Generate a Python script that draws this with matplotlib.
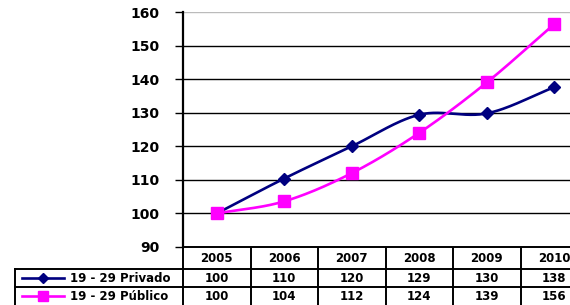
import numpy as np
import matplotlib
matplotlib.use("Agg")
import matplotlib.pyplot as plt

# ==============================
# DATOS
# ==============================

years = ["2005", "2006", "2007", "2008", "2009", "2010"]
privado = [100, 110.4, 120, 129.4, 129.8, 137.6]
publico = [100, 103.6, 112, 124, 139, 156.4]
label_privado = "19 - 29 Privado"
label_publico = "19 - 29 Público"
yticks = [90, 100, 110, 120, 130, 140, 150, 160]

NAVY = "#000080"
PINK = "#FF00FF"

plt.rcParams["font.family"] = ["DejaVu Sans"]
plt.rcParams["font.weight"] = "bold"


def smooth(xs, ys, n=30):
    # curva tipo Catmull-Rom, como las lineas suavizadas de Excel
    xs = np.asarray(xs, float)
    ys = np.asarray(ys, float)
    px = np.concatenate([[2 * xs[0] - xs[1]], xs, [2 * xs[-1] - xs[-2]]])
    py = np.concatenate([[2 * ys[0] - ys[1]], ys, [2 * ys[-1] - ys[-2]]])
    ox, oy = [], []
    t = np.linspace(0, 1, n)
    for i in range(1, len(px) - 2):
        for p, o in ((px, ox), (py, oy)):
            p0, p1, p2, p3 = p[i - 1], p[i], p[i + 1], p[i + 2]
            o.extend(0.5 * ((2 * p1) + (-p0 + p2) * t
                            + (2 * p0 - 5 * p1 + 4 * p2 - p3) * t ** 2
                            + (-p0 + 3 * p1 - 3 * p2 + p3) * t ** 3))
    return ox, oy


# ==============================
# FIGURA
# ==============================

W, H = 570, 305
left, top, bottom = 183, 12, 247
colw = 67.5

fig = plt.figure(figsize=(W / 100, H / 100), dpi=100)
ax = fig.add_axes([left / W, (H - bottom) / H, colw * len(years) / W, (bottom - top) / H])

x = np.arange(len(years))
ax.set_xlim(-0.5, len(years) - 0.5)
ax.set_ylim(90, 160)
ax.set_yticks(yticks)
ax.set_yticklabels([str(v) for v in yticks], fontsize=10, fontweight="bold")
ax.set_xticks([])
ax.tick_params(axis="y", length=6, width=1, pad=11)

for v in yticks[1:]:
    ax.axhline(v, color="#bbbbbb" if v == 160 else "black", lw=1, zorder=1)
for s in ["top", "right"]:
    ax.spines[s].set_visible(False)
ax.spines["left"].set_linewidth(1.6)
ax.spines["bottom"].set_linewidth(1.4)

sx, sy = smooth(x, privado)
ax.plot(sx, sy, color=NAVY, lw=1.9, zorder=3, clip_on=False)
ax.plot(x, privado, ls="none", marker="D", ms=6.5, color=NAVY, zorder=4, clip_on=False)
sx, sy = smooth(x, publico)
ax.plot(sx, sy, color=PINK, lw=1.9, zorder=3, clip_on=False)
ax.plot(x, publico, ls="none", marker="s", ms=8.5, color=PINK, zorder=4, clip_on=False)

# ==============================
# TABLA DE DATOS
# ==============================

tab = fig.add_axes([0, 0, 1, 1], zorder=-1)
tab.set_xlim(0, W)
tab.set_ylim(H, 0)
tab.axis("off")

rows = [247, 269, 287, 306]
right = left + colw * len(years)
for i in range(len(years) + 1):
    tab.plot([left + i * colw] * 2, [rows[0], rows[-1]], color="black", lw=1.4)
tab.plot([15, 15], [rows[1], rows[-1]], color="black", lw=1.4)
for r in rows[1:]:
    tab.plot([15, right], [r, r], color="black", lw=1.4)

fs = 8.5
centers = [259, 279, 297]
for i, yr in enumerate(years):
    cx = left + (i + 0.5) * colw
    tab.text(cx, centers[0], yr, ha="center", va="center", fontsize=fs, fontweight="bold")
    tab.text(cx, centers[1], str(int(round(privado[i]))),
             ha="center", va="center", fontsize=fs, fontweight="bold")
    tab.text(cx, centers[2], str(int(round(publico[i]))),
             ha="center", va="center", fontsize=fs, fontweight="bold")

for cy, lab, col, mk, ms in [(centers[1] - 1, label_privado, NAVY, "D", 5.5),
                              (centers[2] - 1, label_publico, PINK, "s", 7)]:
    tab.plot([22, 64], [cy, cy], color=col, lw=1.9)
    tab.plot([43], [cy], marker=mk, ms=ms, color=col)
    tab.text(70, cy + 1, lab, ha="left", va="center", fontsize=fs, fontweight="bold")

fig.savefig("out.png", dpi=100)
